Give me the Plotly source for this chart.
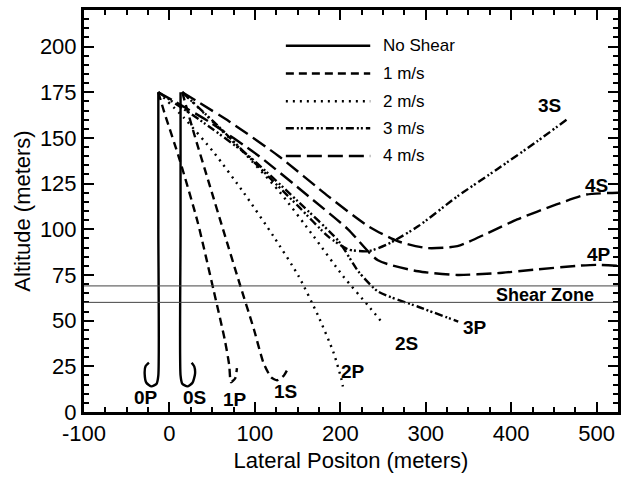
import plotly.graph_objects as go

# ---- data (meters) ----
series_names = ["No Shear", "1 m/s", "2 m/s", "3 m/s", "4 m/s"]
series_dash = ["solid", "8px,5px", "2px,5px", "8px,3px,2px,2px,2px,3px", "15px,6px"]

x_0P = [-13, -13, -13, -15, -21, -27, -29, -28, -24]
y_0P = [175, 100, 20, 15.5, 14, 16, 21, 25, 27]
x_0S = [13, 13, 13, 15, 21, 27, 30, 29, 26]
y_0S = [175, 100, 20, 15.5, 14, 16, 21, 25, 27]

x_1P = [-13, -6, 12, 33, 52, 65, 70, 72, 77, 79]
y_1P = [175, 164, 138, 104, 66, 39, 25.5, 16.3, 18.5, 24]
x_1S = [15, 29, 46.5, 64, 81, 99, 110, 119, 126, 134, 140]
y_1S = [175, 152, 125, 98, 72, 45, 27, 19, 17.4, 20, 25]

x_2P = [-13, 17, 52, 87, 122, 151, 174, 192, 201, 203]
y_2P = [175, 161, 142, 120, 96, 74.5, 52.7, 32.6, 18.5, 14]
x_2S = [15, 46, 87, 128, 169, 203, 233, 250]
y_2S = [175, 161, 142, 121, 96, 74.5, 58, 48.4]

x_3P = [-13, 35, 93, 151, 198, 221, 244, 291, 338]
y_3P = [175, 160, 140, 115, 93.5, 77, 66, 57.6, 49.5]
x_3S = [15, 58, 105, 151, 186, 209, 233, 256, 291, 337, 384, 430, 465]
y_3S = [175, 156, 134, 112.5, 96, 89, 88, 92, 101.6, 118, 133, 148, 160]

x_4P = [-13, 46, 105, 163, 209, 244, 291, 337, 384, 430, 477, 500, 525]
y_4P = [175, 159, 140, 118, 100, 83, 77, 75, 76, 78, 80, 80.5, 80]
x_4S = [15, 70, 128, 186, 233, 267, 302, 337, 372, 407, 453, 488, 525]
y_4S = [175, 159, 140, 118, 101.6, 93.5, 89.7, 90.8, 97.8, 105.4, 113.6, 119, 120]

curve_x = [x_0P, x_0S, x_1P, x_1S, x_2P, x_2S, x_3P, x_3S, x_4P, x_4S]
curve_y = [y_0P, y_0S, y_1P, y_1S, y_2P, y_2S, y_3P, y_3S, y_4P, y_4S]
curve_series = [0, 0, 1, 1, 2, 2, 3, 3, 4, 4]

end_labels = ["0P", "0S", "1P", "1S", "2P", "2S", "3P", "3S", "4P", "4S"]
end_label_x = [-27, 29, 77, 136, 215, 277, 358, 445, 503, 500]
end_label_y = [8, 8, 7, 11, 22, 37.5, 46, 168, 86, 124]

shear_zone = [60, 69]
shear_label = "Shear Zone"
shear_label_xy = (440, 64)

x_ticks = [-100, 0, 100, 200, 300, 400, 500]
x_tick_text = ["-100", "0", "100", "200", "300", "400", "500"]
y_ticks = [0, 25, 50, 75, 100, 125, 150, 175, 200]

FONT = "Arial, Liberation Sans, sans-serif"

fig = go.Figure()
for cx, cy, s in zip(curve_x, curve_y, curve_series):
    fig.add_trace(go.Scatter(
        x=cx, y=cy, mode="lines", showlegend=False, name=series_names[s],
        line=dict(color="black", width=2.4, dash=series_dash[s], shape="spline", smoothing=0.6),
    ))

# shear zone lines
for h in shear_zone:
    fig.add_hline(y=h, line=dict(color="#444", width=1))

fig.add_annotation(x=shear_label_xy[0], y=shear_label_xy[1], text="<b>%s</b>" % shear_label,
                   showarrow=False, font=dict(family=FONT, size=18, color="black"))

for t, lx, ly in zip(end_labels, end_label_x, end_label_y):
    fig.add_annotation(x=lx, y=ly, text="<b>%s</b>" % t, showarrow=False,
                       font=dict(family=FONT, size=19, color="black"))

# legend drawn in paper coordinates
leg_x0, leg_x1, leg_tx = 0.378, 0.536, 0.557
leg_y = [0.911, 0.842, 0.773, 0.706, 0.637]
for name, dash, yy in zip(series_names, series_dash, leg_y):
    fig.add_shape(type="line", xref="paper", yref="paper", x0=leg_x0, x1=leg_x1, y0=yy, y1=yy,
                  line=dict(color="black", width=2.4, dash=dash))
    fig.add_annotation(xref="paper", yref="paper", x=leg_tx, y=yy, text=name, showarrow=False,
                       xanchor="left", yanchor="middle",
                       font=dict(family=FONT, size=17, color="black"))

axis_common = dict(
    showline=True, linecolor="black", linewidth=3, mirror="ticks",
    ticks="inside", ticklen=10, tickwidth=2, tickcolor="black",
    showgrid=False, zeroline=False,
    tickfont=dict(family=FONT, size=22, color="black"),
)
fig.update_xaxes(range=[-100, 525], tickmode="array", tickvals=x_ticks, ticktext=x_tick_text,
                 minor=dict(dtick=25, tick0=0, ticks="inside", ticklen=5, tickwidth=2, tickcolor="black"),
                 title=dict(text="Lateral Positon (meters)", font=dict(family=FONT, size=22, color="black"), standoff=8),
                 **axis_common)
fig.update_yaxes(range=[0, 220], tickmode="array", tickvals=y_ticks,
                 minor=dict(dtick=5, tick0=0, ticks="inside", ticklen=5, tickwidth=2, tickcolor="black"),
                 title=dict(text="Altitude (meters)", font=dict(family=FONT, size=22, color="black"), standoff=4),
                 **axis_common)

fig.update_layout(
    width=628, height=480,
    margin=dict(l=84, r=7, t=7, b=68),
    plot_bgcolor="white", paper_bgcolor="white",
    showlegend=False,
    font=dict(family=FONT, color="black"),
)

fig.write_html("out.html")
